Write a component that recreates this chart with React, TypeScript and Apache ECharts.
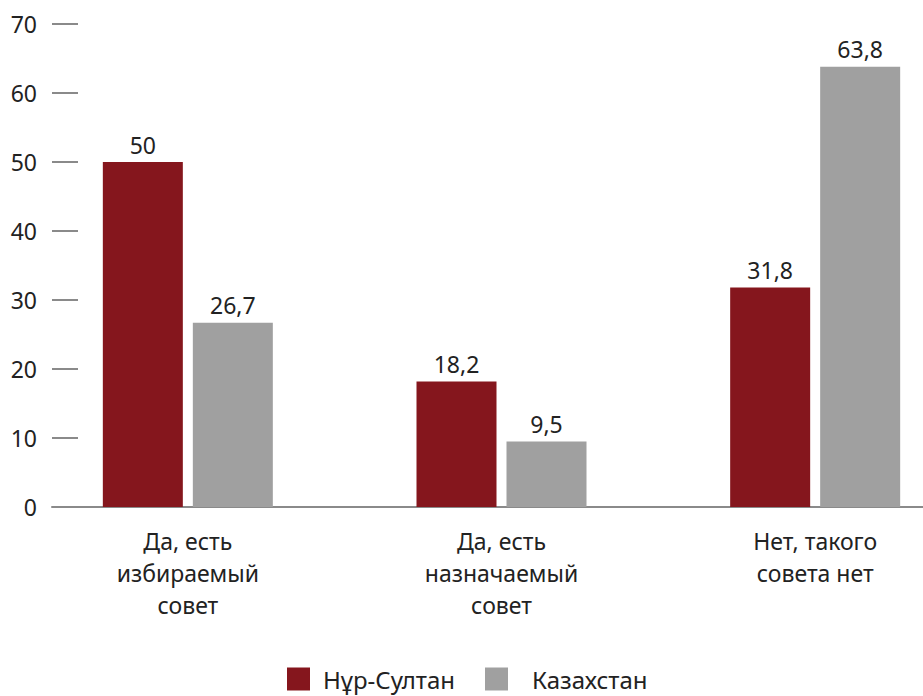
import React, { useEffect, useRef } from "react";
import * as echarts from "echarts";

const categories = ["Да, есть\nизбираемый\nсовет", "Да, есть\nназначаемый\nсовет", "Нет, такого\nсовета нет"];
const seriesNames = ["Нұр-Султан", "Казахстан"];
const nurSultan = [50, 18.2, 31.8];
const kazakhstan = [26.7, 9.5, 63.8];
const colors = ["#85161D", "#A0A0A0"];
const FONT = "Noto Sans";
const TEXT = "#222222";

export default function App() {
  const ref = useRef<HTMLDivElement>(null);
  useEffect(() => {
    document.body.style.margin = "0";
    const chart = echarts.init(ref.current!, null, { renderer: "svg" });
    const label = {
      show: true,
      position: "top",
      distance: 6,
      fontFamily: FONT,
      fontSize: 23,
      color: TEXT,
      formatter: (p: any) => String(p.value).replace(".", ","),
    };
    chart.setOption({
      animation: false,
      textStyle: { fontFamily: FONT },
      grid: [
        { left: 31, right: 0, top: 24, bottom: 189 },
        { left: 52, right: 49, top: 24, bottom: 189 },
      ],
      legend: [
        {
          data: [seriesNames[0]],
          left: 282,
          top: 662,
          itemWidth: 23,
          itemHeight: 23,
          icon: "rect",
          textStyle: { fontFamily: FONT, fontSize: 24, color: TEXT, padding: [0, 0, 0, 8] },
        },
        {
          data: [seriesNames[1]],
          left: 480,
          top: 662,
          itemWidth: 23,
          itemHeight: 23,
          icon: "rect",
          textStyle: { fontFamily: FONT, fontSize: 24, color: TEXT, padding: [0, 0, 0, 19] },
        },
      ],
      xAxis: [
        {
          type: "category",
          gridIndex: 0,
          data: categories,
          axisLine: { show: false },
          axisTick: { show: false },
          axisLabel: { fontFamily: FONT, fontSize: 23, color: TEXT, lineHeight: 32, margin: 18, interval: 0 },
        },
        {
          type: "value",
          gridIndex: 1,
          min: 0,
          max: 1,
          axisLine: { show: true, onZero: false, lineStyle: { color: "#8a8a8a", width: 2 } },
          axisTick: { show: false },
          axisLabel: { show: false },
          splitLine: { show: false },
        },
      ],
      yAxis: [
        {
          type: "value",
          gridIndex: 0,
          min: 0,
          max: 70,
          interval: 10,
          show: false,
        },
        {
          type: "value",
          gridIndex: 1,
          min: 0,
          max: 70,
          interval: 10,
          axisLine: { show: false },
          axisTick: { show: true, inside: true, length: 26, lineStyle: { color: "#8a8a8a", width: 2 } },
          axisLabel: { fontFamily: FONT, fontSize: 23, color: TEXT, margin: 15 },
          splitLine: { show: false },
        },
      ],
      series: [
        {
          name: seriesNames[0],
          type: "bar",
          xAxisIndex: 0,
          yAxisIndex: 0,
          data: nurSultan,
          barWidth: 80,
          barGap: "12.5%",
          itemStyle: { color: colors[0] },
          label,
        },
        {
          name: seriesNames[1],
          type: "bar",
          xAxisIndex: 0,
          yAxisIndex: 0,
          data: kazakhstan,
          barWidth: 80,
          barGap: "12.5%",
          itemStyle: { color: colors[1] },
          label,
        },
      ],
    });
    return () => chart.dispose();
  }, []);
  return (
    <div style={{ width: 923, height: 696, overflow: "hidden" }}>
      <div ref={ref} style={{ width: 972, height: 696 }} />
    </div>
  );
}
